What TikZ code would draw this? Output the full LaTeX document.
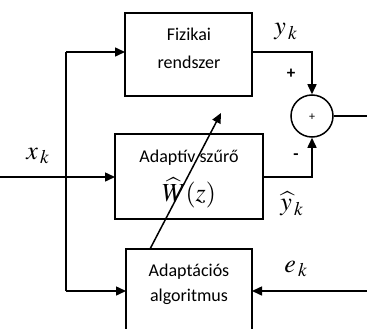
\documentclass[tikz,border=0pt]{standalone}
\usepackage{mathptmx}
\usepackage{fontspec}
\setmainfont{Carlito}
\usetikzlibrary{arrows.meta}
\begin{document}
\begin{tikzpicture}[x=1pt,y=-1pt,
  blk/.style={draw,line width=2pt,inner sep=0pt},
  lbl/.style={font=\fontsize{18}{20}\selectfont,align=center},
  mlbl/.style={font=\fontsize{26}{28}\selectfont},
  conn/.style={line width=1.5pt},
  arr/.style={conn,-{Triangle[length=10pt,width=9pt]}}]
\useasboundingbox (0,0) rectangle (367,329);
\begin{scope}
\clip (0,0) rectangle (367,329);
\draw[blk] (125,13) rectangle (252,96);
\draw[blk] (115,134) rectangle (263,219);
\draw[blk] (126,249) rectangle (252,345);
\node[lbl] (t1) at (189,34) {Fizikai};
\node[lbl] (t2) at (189,62) {rendszer};
\node[lbl] (t3) at (189,158) {Adaptív szűrő};
\node[mlbl] (t4) at (189,193) {$\widehat{W}(z)$};
\node[lbl] (t5) at (189,272) {Adaptációs};
\node[lbl] (t6) at (189,297) {algoritmus};
\node[circle,draw,line width=1.5pt,minimum size=42pt,inner sep=0pt] (sum) at (312,116) {};
\node[font=\fontsize{12}{12}\selectfont] (plus) at (312,117) {+};
\coordinate (in) at (0,177);
\coordinate (top) at (66,52);
\coordinate (bot) at (66,291);
\coordinate (fizin) at (125,52);
\coordinate (fizout) at (252,52);
\coordinate (szin) at (115,177);
\coordinate (szout) at (263,177);
\coordinate (algin) at (126,291);
\coordinate (algein) at (252,291);
\coordinate (out) at (367,116);
\coordinate (ein) at (367,291);
\coordinate (d1) at (150,249);
\coordinate (d2) at (221,113);
\draw[arr] (in) -- (szin);
\draw[conn] (bot) -- (top);
\draw[arr] (top) -- (fizin);
\draw[arr] (bot) -- (algin);
\draw[arr] (fizout) -| (sum.north);
\draw[arr] (szout) -| (sum.south);
\draw[conn] (sum.east) -- (out);
\draw[arr] (ein) -- (algein);
\draw[arr] (d1) -- (d2);
\node[mlbl] (yk) at (286,32) {$y_{\,k}$};
\node[mlbl] (yhk) at (292,204) {$\widehat{y}_{\,k}$};
\node[mlbl] (xk) at (38,156) {$x_{\,k}$};
\node[mlbl] (ek) at (296,269) {$e_{\,k}$};
\node[font=\bfseries\fontsize{17}{18}\selectfont] (pl) at (291,74) {+};
\node[font=\bfseries\fontsize{17}{18}\selectfont] (mi) at (296,157) {-};
\end{scope}
\end{tikzpicture}
\end{document}
